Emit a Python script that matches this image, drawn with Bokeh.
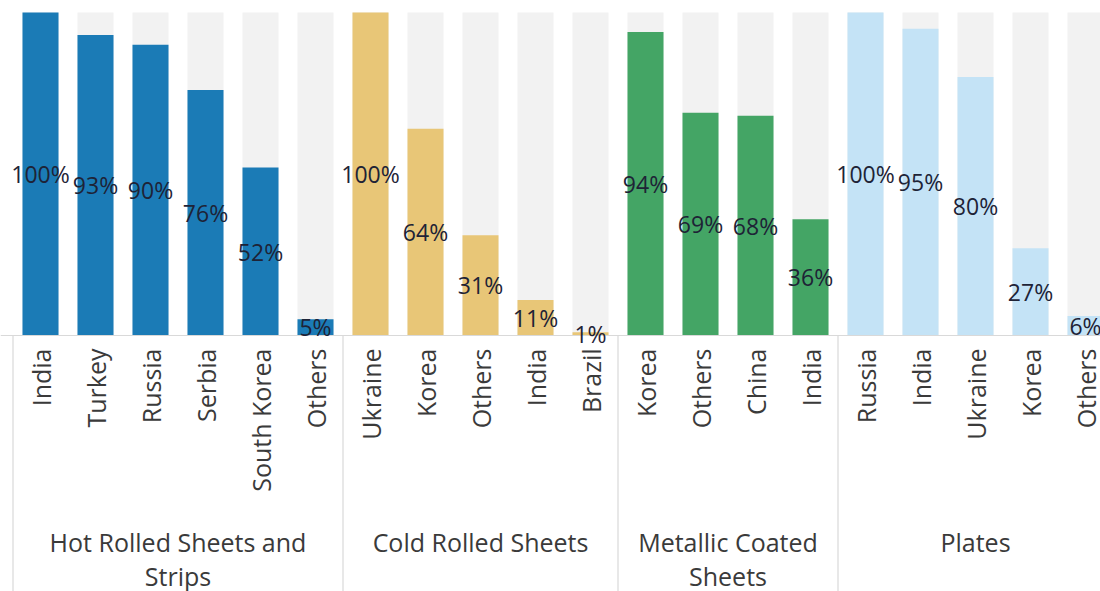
from bokeh.plotting import figure
from bokeh.models import Range1d, ColumnDataSource
from bokeh.core.properties import value
from bokeh.embed import file_html
from bokeh.resources import INLINE
import math

# ---- data ----
group_names = ["Hot Rolled Sheets and\nStrips", "Cold Rolled Sheets", "Metallic Coated\nSheets", "Plates"]
hot_rolled_countries = ["India", "Turkey", "Russia", "Serbia", "South Korea", "Others"]
hot_rolled_values = [100, 93, 90, 76, 52, 5]
cold_rolled_countries = ["Ukraine", "Korea", "Others", "India", "Brazil"]
cold_rolled_values = [100, 64, 31, 11, 1]
metallic_countries = ["Korea", "Others", "China", "India"]
metallic_values = [94, 69, 68, 36]
plates_countries = ["Russia", "India", "Ukraine", "Korea", "Others"]
plates_values = [100, 95, 80, 27, 6]
group_colors = ["#1b7bb6", "#e8c677", "#44a565", "#c4e3f6"]

# ---- layout constants ----
W, H = 1100, 591
SLOT = 55.0            # px per category
X0 = 40.0              # px centre of the first category
BASE = 335.0           # px of 0 %
TOP100 = 12.0          # px of 100 %
PPU = (BASE - TOP100) / 100.0

x_start = -X0 / SLOT
x_end = x_start + W / SLOT
y_top = BASE / PPU
y_bot = -(H - BASE) / PPU

def py(px):
    return (BASE - px) / PPU

groups = [
    (hot_rolled_countries, hot_rolled_values),
    (cold_rolled_countries, cold_rolled_values),
    (metallic_countries, metallic_values),
    (plates_countries, plates_values),
]

xs, vals, names, cols = [], [], [], []
gx, gsep = [], []
i = 0
for gi, (cs, vs) in enumerate(groups):
    start = i
    for c, v in zip(cs, vs):
        xs.append(i); vals.append(v); names.append(c); cols.append(group_colors[gi])
        i += 1
    gx.append((start + i - 1) / 2.0)
    gsep.append(start - 0.5)

src = ColumnDataSource(dict(x=xs, v=vals, half=[v / 2.0 for v in vals],
                            full=[100] * len(xs), name=names, color=cols,
                            lab=[f"{v}%" for v in vals]))

p = figure(width=W, height=H, x_range=Range1d(x_start, x_end), y_range=Range1d(y_bot, y_top),
           output_backend="svg", toolbar_location=None,
           x_axis_location=None, y_axis_location=None, min_border=0)
p.min_border_left = p.min_border_right = p.min_border_top = p.min_border_bottom = 0
p.grid.visible = False
p.outline_line_color = None
p.background_fill_color = "white"
p.border_fill_color = "white"

BW = 0.655
p.vbar(x="x", top="full", bottom=0, width=BW, source=src, fill_color="#f2f2f2", line_color=None)
p.vbar(x="x", top="v", bottom=0, width=BW, source=src, fill_color="color", line_color=None)

# axis line and group separators
p.segment(x0=[x_start], y0=[0], x1=[x_end], y1=[0], line_color="#d9d9d9", line_width=1)
p.segment(x0=gsep, y0=[0] * len(gsep), x1=gsep, y1=[y_bot] * len(gsep), line_color="#d9d9d9", line_width=1.2)

FONT = value("Open Sans")
# data labels
p.text(x="x", y="half", text="lab", source=src, text_align="center", text_baseline="middle",
       text_font=FONT, text_font_size="23px", text_color="#1e2336")

# category tick labels
p.text(x="x", y=py(348), text="name", source=src, angle=math.pi / 2,
       text_align="right", text_baseline="middle",
       text_font=FONT, text_font_size="25px", text_color="#3a3a3a")

# group labels (split into lines)
lx, ly, lt = [], [], []
for g, cx in zip(group_names, gx):
    for k, line in enumerate(g.split("\n")):
        lx.append(cx); ly.append(py(541 + 34 * k)); lt.append(line)
p.text(x=lx, y=ly, text=lt, text_align="center", text_baseline="middle",
       text_font=FONT, text_font_size="25px", text_color="#3a3a3a")

open("out.html", "w").write(file_html(p, INLINE))
